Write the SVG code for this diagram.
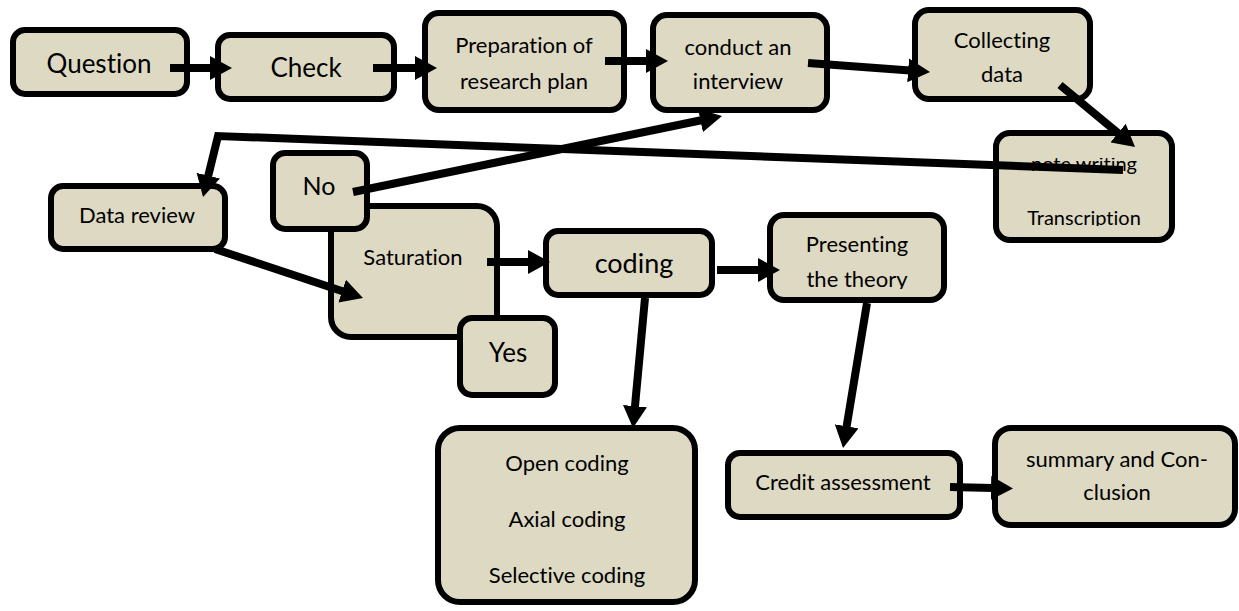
<svg xmlns="http://www.w3.org/2000/svg" width="1239" height="611" viewBox="0 0 1239 611">
<style>
.box{fill:#DDD9C3;stroke:#000;stroke-width:6}
.t{font-family:Lato,"Liberation Sans",sans-serif;fill:#000;text-anchor:middle;font-size:22px;font-variant-ligatures:none}
.c{fill:none;stroke:#000;stroke-width:8;marker-end:url(#ah)}
</style>
<defs>
<marker id="ah" markerUnits="userSpaceOnUse" markerWidth="24" markerHeight="24" refX="2" refY="12" orient="auto" viewBox="0 0 24 24">
<path d="M0,0 L22,12 L0,24 z" fill="#000"/>
</marker>
<clipPath id="clipNote"><rect x="995" y="158" width="178" height="68"/></clipPath>
<clipPath id="clipPres"><rect x="770" y="215" width="174" height="74"/></clipPath>
</defs>
<rect width="1239" height="611" fill="#fff"/>
<g id="question"><rect class="box" x="13" y="30" width="174" height="64" rx="12"/><text class="t" x="99" y="73" style="font-size:26px">Question</text></g>
<g id="check"><rect class="box" x="218" y="35" width="176" height="64" rx="12"/><text class="t" x="306" y="77" style="font-size:26px">Check</text></g>
<g id="prep"><rect class="box" x="425" y="13" width="199" height="97" rx="14"/><text class="t" x="524" y="53">Preparation of</text><text class="t" x="524" y="89">research plan</text></g>
<g id="interview"><rect class="box" x="653" y="15" width="174" height="95" rx="14"/><text class="t" x="738" y="55">conduct an</text><text class="t" x="738" y="89">interview</text></g>
<g id="collect"><rect class="box" x="915" y="10" width="175" height="89" rx="14"/><text class="t" x="1002" y="48">Collecting</text><text class="t" x="1002" y="82">data</text></g>
<g id="note"><rect class="box" x="996" y="133" width="176" height="107" rx="14"/><g clip-path="url(#clipNote)"><text class="t" x="1084" y="171" style="font-size:20px">note writing</text><text class="t" x="1084" y="225" style="font-size:20px">Transcription</text></g></g>
<g id="datareview"><rect class="box" x="51" y="186" width="174" height="63" rx="12"/><text class="t" x="137" y="223">Data review</text></g>
<g id="saturation"><rect class="box" x="331" y="206" width="166" height="131" rx="20"/><text class="t" x="413" y="265">Saturation</text></g>
<g id="no"><rect class="box" x="273" y="153" width="94" height="76" rx="12"/><text class="t" x="319" y="195" style="font-size:25px">No</text></g>
<g id="yes"><rect class="box" x="460" y="318" width="95" height="77" rx="12"/><text class="t" x="508" y="362" style="font-size:26px">Yes</text></g>
<g id="coding"><rect class="box" x="546" y="231" width="166" height="64" rx="12"/><text class="t" x="634" y="273" style="font-size:27px">coding</text></g>
<g id="presenting"><rect class="box" x="770" y="215" width="174" height="85" rx="14"/><g clip-path="url(#clipPres)"><text class="t" x="857" y="252">Presenting</text><text class="t" x="857" y="287">the theory</text></g></g>
<g id="opencoding"><rect class="box" x="438" y="428" width="257" height="174" rx="22"/><text class="t" x="567" y="471">Open coding</text><text class="t" x="567" y="527">Axial coding</text><text class="t" x="567" y="583">Selective coding</text></g>
<g id="credit"><rect class="box" x="728" y="453" width="232" height="64" rx="12"/><text class="t" x="843" y="490">Credit assessment</text></g>
<g id="summary"><rect class="box" x="995" y="428" width="240" height="97" rx="16"/><text class="t" x="1117" y="467">summary and Con-</text><text class="t" x="1117" y="500">clusion</text></g>
<g id="connectors">
<line class="c" x1="170" y1="68" x2="212" y2="68"/>
<line class="c" x1="373" y1="68" x2="417" y2="68"/>
<line class="c" x1="605" y1="61" x2="648" y2="61"/>
<line class="c" x1="808" y1="63" x2="910.1" y2="70.5"/>
<line class="c" x1="1060" y1="85" x2="1119.6" y2="134.3"/>
<polyline class="c" stroke-width="7" points="1123,170 218,136 207.8,177.6"/>
<line class="c" x1="215" y1="249" x2="344" y2="291.7"/>
<line class="c" x1="353" y1="192" x2="702.4" y2="120"/>
<line class="c" x1="487" y1="262" x2="530" y2="262"/>
<line class="c" x1="717" y1="270" x2="760" y2="270"/>
<line class="c" stroke-width="7" x1="645" y1="298" x2="634.8" y2="408.1"/>
<line class="c" stroke-width="7" x1="867" y1="303" x2="846.3" y2="428.3"/>
<line class="c" x1="950" y1="487" x2="993" y2="488"/>
</g>
</svg>
